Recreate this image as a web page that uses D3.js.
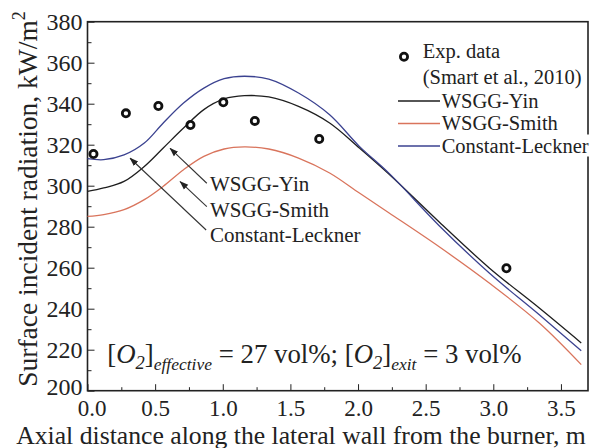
<!DOCTYPE html>
<html>
<head>
<meta charset="utf-8">
<script src="https://cdn.jsdelivr.net/npm/d3@7"></script>
<style>
  body { margin: 0; background: #fff; }
  text { font-family: "Liberation Serif", "Times New Roman", serif; fill: #222; }
</style>
</head>
<body>
<svg id="chart" width="590" height="448"></svg>
<script>
// distances along the wall (m) where the model curves were read
const distances = [0, 0.12, 0.27, 0.42, 0.56, 0.71, 0.86, 1.01, 1.16, 1.34, 1.56, 1.79, 2.01, 2.23, 2.6, 2.97, 3.34, 3.65];
const yinValues = [297.2, 298.9, 302.1, 309.4, 318.4, 328.1, 337.1, 342.3, 343.9, 343.3, 338.7, 330.6, 318.4, 305.6, 282.3, 259.9, 240.3, 223.3];
const smithValues = [285, 285.9, 288.3, 293.2, 299.7, 307.8, 314.3, 317.9, 318.9, 317.9, 313.5, 306.2, 296.4, 286.7, 270.2, 252.5, 233, 212.7];
const lecknerValues = [313.2, 312.7, 315, 320.8, 330.6, 340.3, 347.6, 352.2, 353.4, 352, 345.2, 334.6, 319.2, 306, 280.5, 257.4, 237, 219.5];

// experimental data (Smart et al., 2010)
const expDistances = [0.044, 0.284, 0.524, 0.761, 1.004, 1.237, 1.713, 3.097];
const expValues = [315.5, 335.3, 338.9, 329.6, 340.7, 331.6, 322.8, 259.7];

const xTicks = [0, 0.5, 1, 1.5, 2, 2.5, 3, 3.5];
const yTicks = [200, 220, 240, 260, 280, 300, 320, 340, 360, 380];

const series = [
  { name: "WSGG-Yin", values: yinValues, color: "#1e1e1e" },
  { name: "WSGG-Smith", values: smithValues, color: "#d9745c" },
  { name: "Constant-Leckner", values: lecknerValues, color: "#3b4290" }
];

// arrow annotations: label anchor and arrow head, in data units
const notes = [
  { label: "WSGG-Yin", tail: [0.882, 301.2], head: [0.611, 318.2], text: [0.906, 297.6] },
  { label: "WSGG-Smith", tail: [0.882, 289.8], head: [0.685, 302.0], text: [0.906, 284.9] },
  { label: "Constant-Leckner", tail: [0.877, 278.4], head: [0.315, 313.4], text: [0.906, 272.7] }
];

const svg = d3.select("#chart");
const plot = { left: 87.5, right: 588, top: 21.7, bottom: 390.7 };

const x = d3.scaleLinear().domain([0, 3.7]).range([plot.left, plot.right]);
const y = d3.scaleLinear().domain([200, 380]).range([plot.bottom, plot.top]);

// arrow head marker
svg.append("defs").append("marker")
  .attr("id", "arrow")
  .attr("viewBox", "0 0 10 10")
  .attr("refX", 9).attr("refY", 5)
  .attr("markerWidth", 9).attr("markerHeight", 9)
  .attr("markerUnits", "userSpaceOnUse")
  .attr("orient", "auto")
  .append("path")
  .attr("d", "M0,1.5 L10,5 L0,8.5 Z")
  .attr("fill", "#222");

// minor ticks
svg.append("g")
  .attr("transform", `translate(0,${plot.bottom})`)
  .call(d3.axisBottom(x).tickValues(d3.range(0.25, 3.7, 0.5)).tickSize(-3.5).tickSizeOuter(0).tickFormat(""))
  .call(g => g.select(".domain").remove())
  .call(g => g.selectAll("line").attr("stroke", "#222"));
svg.append("g")
  .attr("transform", `translate(${plot.left},0)`)
  .call(d3.axisLeft(y).tickValues(d3.range(210, 380, 20)).tickSize(-4).tickSizeOuter(0).tickFormat(""))
  .call(g => g.select(".domain").remove())
  .call(g => g.selectAll("line").attr("stroke", "#222"));

// major ticks and labels
svg.append("g")
  .attr("transform", `translate(0,${plot.bottom})`)
  .call(d3.axisBottom(x).tickValues(xTicks).tickSize(-6.5).tickSizeOuter(0).tickPadding(8.5).tickFormat(d3.format(".1f")))
  .call(g => g.select(".domain").remove())
  .call(g => g.selectAll("line").attr("stroke", "#222"))
  .call(g => g.selectAll("text").attr("fill", "#222").style("font-size", "23px")
    .style("font-family", '"Liberation Serif", serif')
    .attr("dx", d => d === 0 ? 4 : 0));
svg.append("g")
  .attr("transform", `translate(${plot.left},0)`)
  .call(d3.axisLeft(y).tickValues(yTicks).tickSize(-7).tickSizeOuter(0).tickPadding(5))
  .call(g => g.select(".domain").remove())
  .call(g => g.selectAll("line").attr("stroke", "#222"))
  .call(g => g.selectAll("text").attr("fill", "#222").style("font-size", "24px")
    .style("font-family", '"Liberation Serif", serif')
    .attr("y", d => d === 200 ? -3.5 : 0));

// frame
svg.append("rect")
  .attr("x", plot.left).attr("y", plot.top)
  .attr("width", plot.right - plot.left).attr("height", plot.bottom - plot.top)
  .attr("fill", "none").attr("stroke", "#222").attr("stroke-width", 1.6);

// model curves
const line = d3.line()
  .x(d => x(d[0]))
  .y(d => y(d[1]))
  .curve(d3.curveCatmullRom.alpha(0.5));

series.forEach(s => {
  svg.append("path")
    .datum(distances.map((d, i) => [d, s.values[i]]))
    .attr("d", line)
    .attr("fill", "none")
    .attr("stroke", s.color)
    .attr("stroke-width", 1.3);
});

// experimental points
svg.append("g").selectAll("circle")
  .data(expDistances.map((d, i) => [d, expValues[i]]))
  .join("circle")
  .attr("cx", d => x(d[0]))
  .attr("cy", d => y(d[1]))
  .attr("r", 3.6)
  .attr("fill", "none")
  .attr("stroke", "#111")
  .attr("stroke-width", 2.8);

// arrows with labels
notes.forEach(n => {
  svg.append("line")
    .attr("x1", x(n.tail[0])).attr("y1", y(n.tail[1]))
    .attr("x2", x(n.head[0])).attr("y2", y(n.head[1]))
    .attr("stroke", "#333").attr("stroke-width", 1.1)
    .attr("marker-end", "url(#arrow)");
  svg.append("text")
    .attr("x", x(n.text[0])).attr("y", y(n.text[1]))
    .style("font-size", "21px")
    .text(n.label);
});

// legend
const lg = svg.append("g");
lg.append("circle").attr("cx", 404).attr("cy", 56.7).attr("r", 3.6)
  .attr("fill", "none").attr("stroke", "#111").attr("stroke-width", 2.8);
lg.append("text").attr("x", 422.7).attr("y", 58.3).style("font-size", "20.5px").text("Exp. data");
lg.append("text").attr("x", 422.7).attr("y", 83.5).style("font-size", "20.5px").text("(Smart et al., 2010)");
series.forEach((s, i) => {
  const ly = 101 + i * 22.5;
  lg.append("line").attr("x1", 398).attr("x2", 440).attr("y1", ly).attr("y2", ly)
    .attr("stroke", s.color).attr("stroke-width", 1.3);
  const t = lg.append("text").attr("x", 441.7).attr("y", ly + 6.5)
    .style("font-size", "20.5px").text(s.name);
  if (i === 2) {
    const b = t.node().getBBox();
    lg.insert("rect", "text:last-child")
      .attr("x", b.x).attr("y", b.y).attr("width", b.width + 4).attr("height", b.height)
      .attr("fill", "#fff");
  }
});

// oxygen conditions annotation
const ann = svg.append("text")
  .attr("x", x(0.146)).attr("y", y(213.5))
  .style("font-size", "26.8px");
ann.append("tspan").text("[");
ann.append("tspan").style("font-style", "italic").text("O");
ann.append("tspan").attr("dy", 6).style("font-size", "18.5px").style("font-style", "italic").text("2");
ann.append("tspan").attr("dy", -6).text("]");
ann.append("tspan").attr("dy", 7).style("font-size", "17.5px").style("font-style", "italic").text("effective");
ann.append("tspan").attr("dy", -7).text(" = 27 vol%; [");
ann.append("tspan").style("font-style", "italic").text("O");
ann.append("tspan").attr("dy", 6).style("font-size", "18.5px").style("font-style", "italic").text("2");
ann.append("tspan").attr("dy", -6).text("]");
ann.append("tspan").attr("dy", 7).style("font-size", "17.5px").style("font-style", "italic").text("exit");
ann.append("tspan").attr("dy", -7).text(" = 3 vol%");

// axis titles
svg.append("text")
  .attr("x", (15 + 587) / 2).attr("y", 443.5)
  .attr("text-anchor", "middle")
  .style("font-size", "25.7px")
  .text("Axial distance along the lateral wall from the burner, m");

const yt = svg.append("text")
  .attr("transform", "translate(37,199) rotate(-90)")
  .attr("text-anchor", "middle")
  .style("font-size", "27.5px");
yt.append("tspan").text("Surface incident radiation, kW/m");
yt.append("tspan").attr("dy", -12).style("font-size", "18px").text("2");
</script>
</body>
</html>
